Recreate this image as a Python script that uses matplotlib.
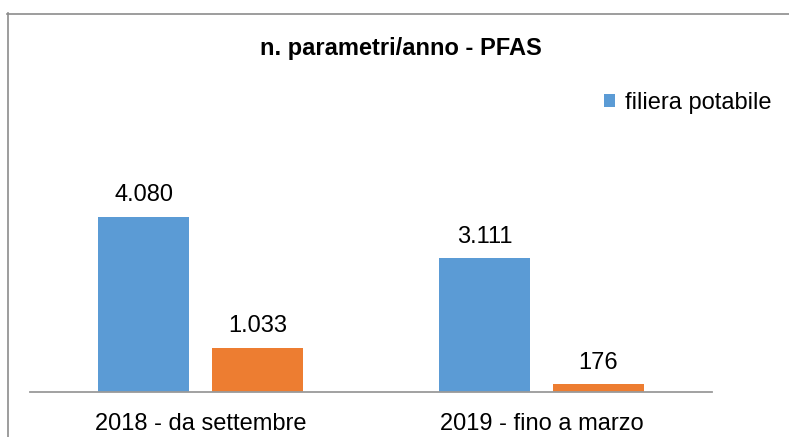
import matplotlib
matplotlib.use("Agg")
import matplotlib.pyplot as plt
from matplotlib.lines import Line2D
from matplotlib.patches import Patch
import numpy as np

plt.rcParams['font.family'] = ['Liberation Sans', 'DejaVu Sans']

categories = ["2018 - da settembre", "2019 - fino a marzo"]
series_names = ["filiera potabile", "altro"]
blue_values = [4080, 3111]
orange_values = [1033, 176]
value_labels_blue = ["4.080", "3.111"]
value_labels_orange = ["1.033", "176"]
title = "n. parametri/anno - PFAS"

W, H = 789, 437
fig = plt.figure(figsize=(W / 100, H / 100), dpi=100)
fig.patch.set_facecolor("white")

# outer chart border (top and left visible)
fig.add_artist(Line2D([7.5 / W, 7.5 / W], [1 - 13 / H, 0], color="#8c8c8c", lw=1.2))
fig.add_artist(Line2D([7 / W, 1], [1 - 13.5 / H, 1 - 13.5 / H], color="#8c8c8c", lw=1.2))

ax_left, ax_right = 30 / W, 712 / W
ax_bottom, ax_top = 1 - 392 / H, 1 - 120 / H
ax = fig.add_axes([ax_left, ax_bottom, ax_right - ax_left, ax_top - ax_bottom])
ax.set_xlim(-0.5, 1.5)
ax.set_ylim(0, 6330)

x = np.arange(len(categories))
bw = 0.267
off = 0.167
b1 = ax.bar(x - off, blue_values, bw, color="#5b9bd5", label=series_names[0])
b2 = ax.bar(x + off, orange_values, bw, color="#ed7d31", label=series_names[1])

fs = 17
for rects, labels in ((b1, value_labels_blue), (b2, value_labels_orange)):
    for r, lab in zip(rects, labels):
        ax.annotate(lab, (r.get_x() + r.get_width() / 2, r.get_height()),
                    xytext=(0, 11.3), textcoords="offset points",
                    ha="center", va="baseline", fontsize=fs, color="#000000")

for s in ("top", "right", "left"):
    ax.spines[s].set_visible(False)
ax.spines["bottom"].set_color("#9a9a9a")
ax.spines["bottom"].set_linewidth(1.3)
ax.spines["bottom"].set_zorder(3)
ax.set_yticks([])
ax.set_xticks(x, categories)
ax.tick_params(axis="x", length=0, pad=27.4, labelsize=fs)
for lbl in ax.get_xticklabels():
    lbl.set_va("baseline")

fig.text(401 / W, 1 - 55 / H, title, ha="center", va="baseline",
         fontsize=fs, fontweight="bold")

handles = [Patch(facecolor="#5b9bd5", edgecolor="none")]
fig.legend(handles, [series_names[0]], loc="center left",
           bbox_to_anchor=(604 / W, 1 - 103 / H), frameon=False,
           fontsize=fs, handlelength=0.45, handleheight=0.45,
           handletextpad=0.42, borderpad=0, borderaxespad=0)

fig.savefig("out.png", dpi=100)
